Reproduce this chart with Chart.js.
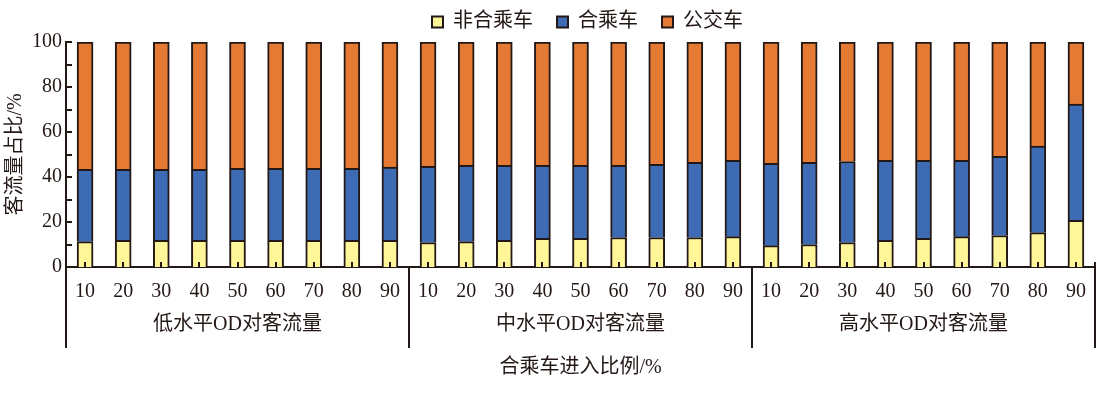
<!DOCTYPE html>
<html>
<head>
<meta charset="utf-8">
<script src="https://cdn.jsdelivr.net/npm/chart.js@4"></script>
<style>
  html, body { margin: 0; padding: 0; background: #ffffff; }
  #wrap { width: 1113px; height: 398px; position: relative; }
</style>
</head>
<body>
<div id="wrap"><canvas id="c" width="1113" height="398"></canvas></div>
<script>
// ---- data ----
const categories = ['10','20','30','40','50','60','70','80','90',
                    '10','20','30','40','50','60','70','80','90',
                    '10','20','30','40','50','60','70','80','90'];
const groupLabels = ['低水平OD对客流量', '中水平OD对客流量', '高水平OD对客流量'];
const seriesNames = ['非合乘车', '合乘车', '公交车'];
const nonPooled = [11.3, 11.8, 11.8, 11.8, 11.8, 11.8, 11.8, 11.8, 11.8,
                   10.9, 11.3, 11.8, 12.7, 12.7, 13.1, 13.1, 13.1, 13.5,
                   9.5, 10.0, 10.9, 11.8, 12.7, 13.5, 14.0, 15.3, 20.7];
const pooled    = [32.1, 31.6, 31.6, 31.6, 32.0, 32.0, 32.0, 32.0, 32.6,
                   33.8, 33.9, 33.4, 32.5, 32.5, 32.1, 32.5, 33.4, 33.9,
                   36.6, 36.5, 36.0, 35.6, 34.7, 33.9, 35.2, 38.4, 51.7];
const bus       = [56.6, 56.6, 56.6, 56.6, 56.2, 56.2, 56.2, 56.2, 55.6,
                   55.3, 54.8, 54.8, 54.8, 54.8, 54.8, 54.4, 53.5, 52.6,
                   53.9, 53.5, 53.1, 52.6, 52.6, 52.6, 50.8, 46.3, 27.6];
const yTickValues = [0, 10, 20, 30, 40, 50, 60, 70, 80, 90, 100];
const groupSize = 9;

const INK = '#231815';
const FONT = "'Liberation Serif', 'Times New Roman', 'Noto Sans CJK SC', serif";

const legendShift = {
  id: 'legendShift',
  beforeDraw(chart) {
    const lg = chart.legend;
    if (lg) { lg.left += 40; lg.right += 40; }
  }
};

const decorPlugin = {
  id: 'decor',
  afterDatasetsDraw(chart) {
    const ctx = chart.ctx;
    const x = chart.scales.x, y = chart.scales.y;
    const area = chart.chartArea;
    ctx.save();
    ctx.strokeStyle = INK;
    ctx.lineWidth = 2;
    yTickValues.forEach(v => {
      const py = Math.round(y.getPixelForValue(v));
      ctx.beginPath();
      ctx.moveTo(area.left, py);
      ctx.lineTo(area.left + 6, py);
      ctx.stroke();
    });
    categories.forEach((c, i) => {
      const px = Math.round(x.getPixelForValue(i));
      ctx.beginPath();
      ctx.moveTo(px, area.bottom);
      ctx.lineTo(px, area.bottom - 5);
      ctx.stroke();
    });
    const nGroups = groupLabels.length;
    for (let g = 0; g <= nGroups; g++) {
      let px;
      if (g === 0) px = area.left;
      else if (g === nGroups) px = area.right;
      else px = (x.getPixelForValue(g * groupSize - 1) + x.getPixelForValue(g * groupSize)) / 2;
      ctx.beginPath();
      ctx.moveTo(px, g === nGroups ? area.bottom - 5 : area.bottom);
      ctx.lineTo(px, 348);
      ctx.stroke();
    }
    ctx.fillStyle = INK;
    ctx.font = "20px " + FONT;
    ctx.textAlign = 'center';
    ctx.textBaseline = 'middle';
    groupLabels.forEach((t, g) => {
      const a = x.getPixelForValue(g * groupSize);
      const b = x.getPixelForValue(g * groupSize + groupSize - 1);
      ctx.fillText(t, (a + b) / 2, 325);
    });
    ctx.restore();
  }
};

new Chart(document.getElementById('c'), {
  type: 'bar',
  data: {
    labels: categories,
    datasets: [
      { label: seriesNames[0], data: nonPooled, backgroundColor: '#FFF699', borderColor: INK, borderWidth: 2 },
      { label: seriesNames[1], data: pooled,    backgroundColor: '#3D6CB4', borderColor: INK, borderWidth: 2 },
      { label: seriesNames[2], data: bus,       backgroundColor: '#E47A34', borderColor: INK, borderWidth: 2 }
    ]
  },
  options: {
    responsive: false,
    animation: false,
    devicePixelRatio: 1,
    layout: { padding: { left: 0, right: 18, top: -16, bottom: 0 } },
    datasets: { bar: { barThickness: 16 } },
    plugins: {
      legend: {
        position: 'top',
        labels: {
          boxWidth: 11, boxHeight: 11, padding: 24,
          color: INK,
          font: { size: 20, family: FONT }
        }
      },
      tooltip: { enabled: false }
    },
    scales: {
      x: {
        stacked: true,
        grid: { display: false, drawTicks: false },
        border: { display: true, color: INK, width: 2 },
        ticks: { autoSkip: false, maxRotation: 0, minRotation: 0, padding: 13, color: INK, font: { size: 20, family: FONT } },
        title: { display: true, text: '合乘车进入比例/%', color: INK, font: { size: 20, family: FONT }, padding: { top: 0, bottom: 18 } },
        afterFit(s) { s.height = 131; }
      },
      y: {
        stacked: true,
        min: 0, max: 100,
        grid: { display: false, drawTicks: false },
        border: { display: true, color: INK, width: 2 },
        ticks: { stepSize: 20, padding: 4, color: INK, font: { size: 20, family: FONT } },
        title: { display: true, text: '客流量占比/%', color: INK, font: { size: 20, family: FONT }, padding: { top: 4, bottom: 0 } },
        afterFit(s) { s.width = 66; s.paddingTop = 42; }
      }
    }
  },
  plugins: [legendShift, decorPlugin]
});
</script>
</body>
</html>
